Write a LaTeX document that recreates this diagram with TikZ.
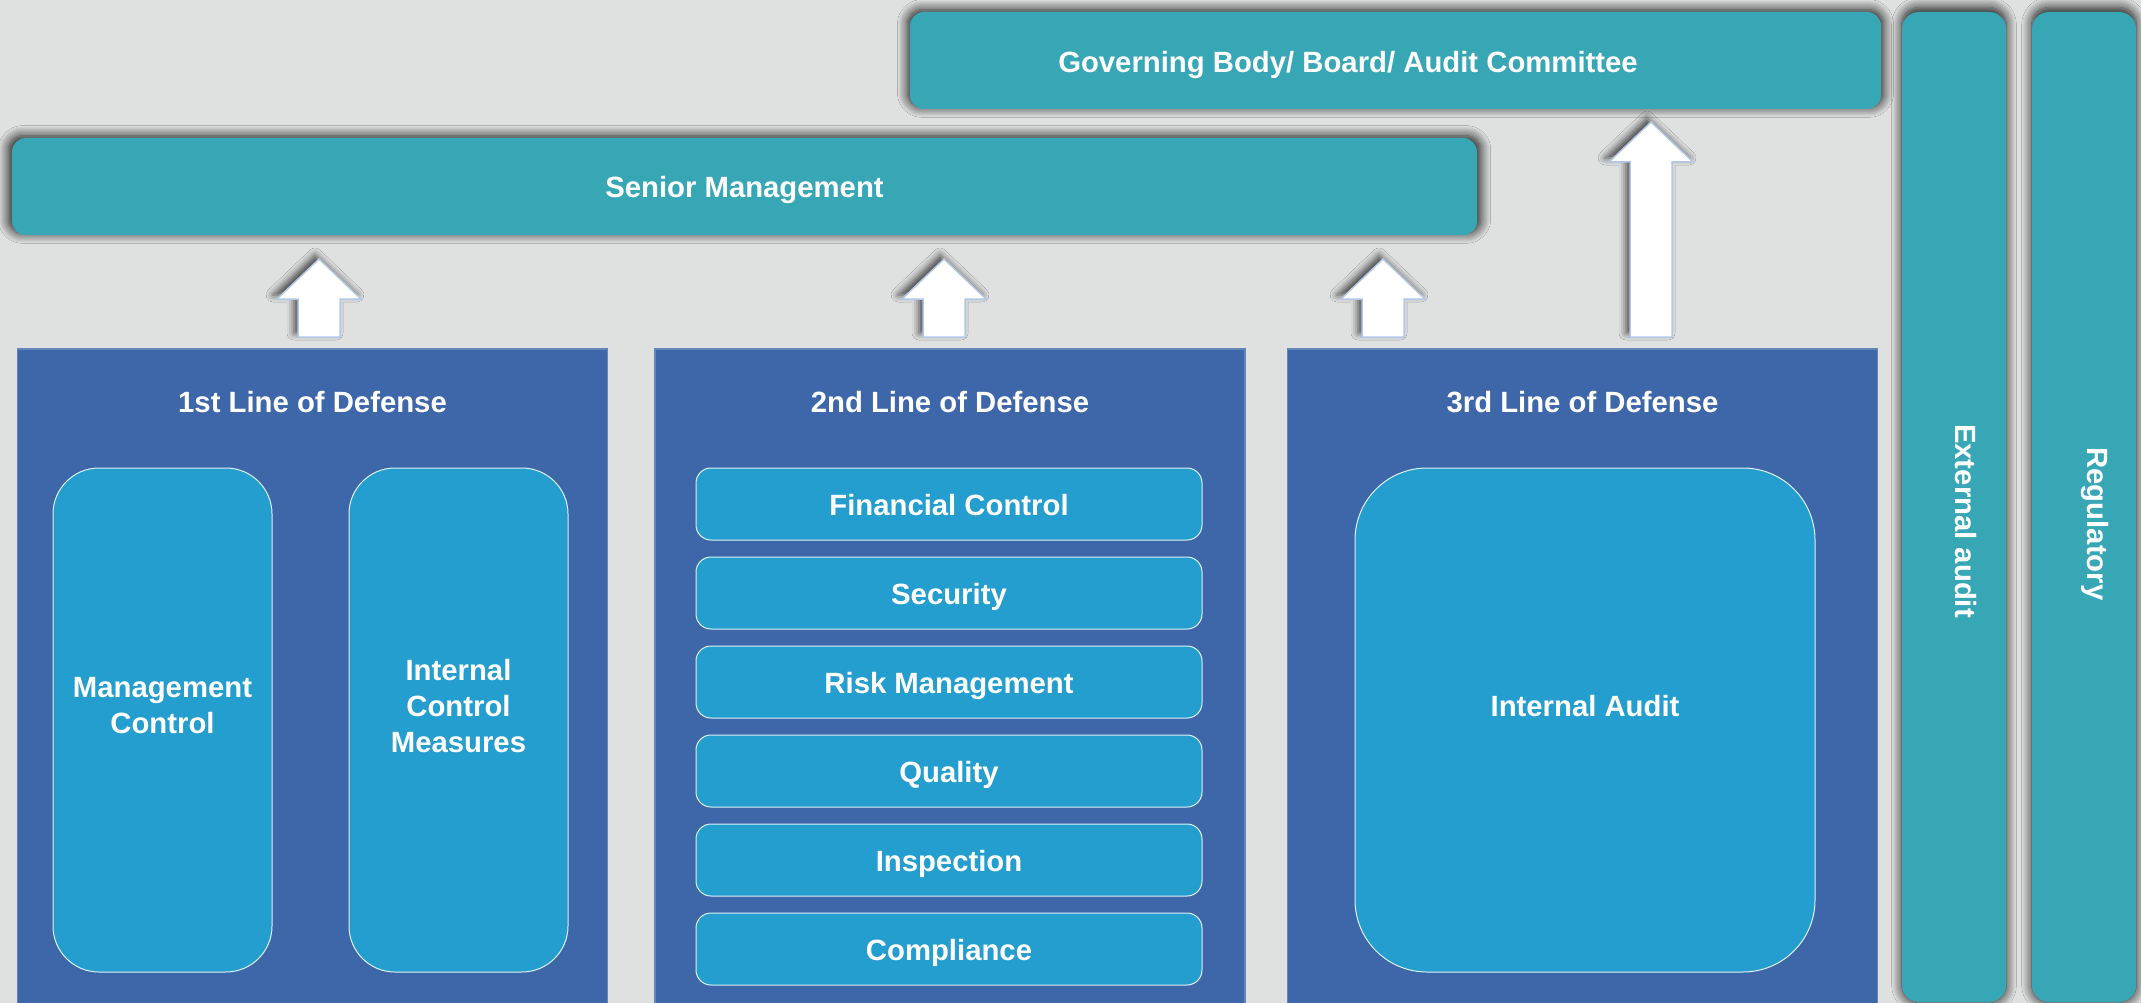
\documentclass[tikz,border=0pt]{standalone}
\usepackage{fontspec}
\setmainfont{Liberation Sans}
\usetikzlibrary{calc,positioning,shadows.blur}

\definecolor{paper}{RGB}{223,225,224}
\definecolor{barteal}{RGB}{55,167,181}
\definecolor{lineblue}{RGB}{62,103,170}
\definecolor{cellblue}{RGB}{36,158,206}
\definecolor{arrowrim}{RGB}{180,199,231}

\tikzset{
  every node/.style={inner sep=0pt, outer sep=0pt, text=white,
    font=\fontsize{29.3}{36}\selectfont\bfseries},
  lbl/.style={text height=22pt, text depth=0pt},
  topbar/.style={fill=barteal, rounded corners=14pt,
    blur shadow={shadow xshift=0pt, shadow yshift=2pt, shadow scale=1.005,
      shadow blur radius=10pt, shadow blur steps=12, shadow opacity=90}},
  sidebar/.style={topbar, rounded corners=17pt, minimum width=104pt, minimum height=990pt},
  defbox/.style={fill=lineblue, draw=lineblue!75!paper, line width=1.5pt,
    minimum width=590pt, minimum height=661pt},
  cell/.style={fill=cellblue, draw=white!85!cellblue, line width=1pt},
  tallcell/.style={cell, rounded corners=46pt, minimum width=219pt, minimum height=504pt},
  rowcell/.style={cell, lbl, rounded corners=15pt, minimum width=506pt, minimum height=72pt},
  arrowbody/.style={fill=white, draw=arrowrim, line width=1.5pt,
    blur shadow={shadow xshift=-4pt, shadow yshift=4pt, shadow blur radius=7pt, shadow opacity=70}},
}

% block arrow from tail #1 up to tip #2
\newcommand{\blockarrow}[2]{%
  \draw[arrowbody] ($(#1)+(-21,0)$) -- ($(#2)+(-21,40)$) -- ($(#2)+(-42,40)$) -- (#2)
    -- ($(#2)+(42,40)$) -- ($(#2)+(21,40)$) -- ($(#1)+(21,0)$) -- cycle;}

\begin{document}
\begin{tikzpicture}[x=1pt,y=-1pt]
\useasboundingbox[fill=paper] (0,0) rectangle (2141,1003);

% top bars
\node[topbar, minimum width=971pt, minimum height=97pt] (gov) at (1395.5,60.5) {};
\node[lbl] (govtxt) at ([xshift=-47.5pt,yshift=-1.5pt]gov.center) {Governing Body/ Board/ Audit Committee};
\node[topbar, lbl, minimum width=1465pt, minimum height=97pt] (senior) at (744.5,186.5) {Senior Management};

% side bars
\node[sidebar] (ext) at (1954,507) {};
\node[sidebar] (reg) at (2084,507) {};
\node[rotate=-90, anchor=base] (exttxt) at (1955,521) {External audit};
\node[rotate=-90, anchor=base] (regtxt) at (2087,524) {Regulatory};

% arrows
\coordinate (t1) at (319,337);  \coordinate (h1) at (319,259);
\coordinate (t2) at (944,337);  \coordinate (h2) at (944,259);
\coordinate (t3) at (1383,337); \coordinate (h3) at (1383,259);
\coordinate (t4) at (1651,337); \coordinate (h4) at (1651,122);
\blockarrow{t1}{h1}
\blockarrow{t2}{h2}
\blockarrow{t3}{h3}
\blockarrow{t4}{h4}

% three lines of defense
\node[defbox] (l1) at (312.5,679.5) {};
\node[defbox] (l2) at (950,679.5) {};
\node[defbox] (l3) at (1582.5,679.5) {};
\node[lbl] (l1t) at ([yshift=-52pt]l1.north) {1st Line of Defense};
\node[lbl] (l2t) at ([yshift=-52pt]l2.north) {2nd Line of Defense};
\node[lbl] (l3t) at ([yshift=-52pt]l3.north) {3rd Line of Defense};

% first line
\node[tallcell] (mc) at (162.5,720) {};
\node[tallcell] (icm) at (458.5,720) {};
\node[align=center] (mctxt) at ([yshift=14pt]mc.center) {Management\\Control};
\node[align=center] (icmtxt) at ([yshift=14pt]icm.center) {Internal\\Control\\Measures};

% second line
\node[rowcell] (fin) at (949,504) {Financial Control};
\node[rowcell, below=17pt of fin] (sec) {Security};
\node[rowcell, below=17pt of sec] (risk) {Risk Management};
\node[rowcell, below=17pt of risk] (qual) {Quality};
\node[rowcell, below=17pt of qual] (insp) {Inspection};
\node[rowcell, below=17pt of insp] (comp) {Compliance};

% third line
\node[cell, rounded corners=72pt, minimum width=460pt, minimum height=504pt] (ia) at (1585,720) {};
\node[lbl] (iatxt) at ([yshift=15pt]ia.center) {Internal Audit};
\end{tikzpicture}
\end{document}
